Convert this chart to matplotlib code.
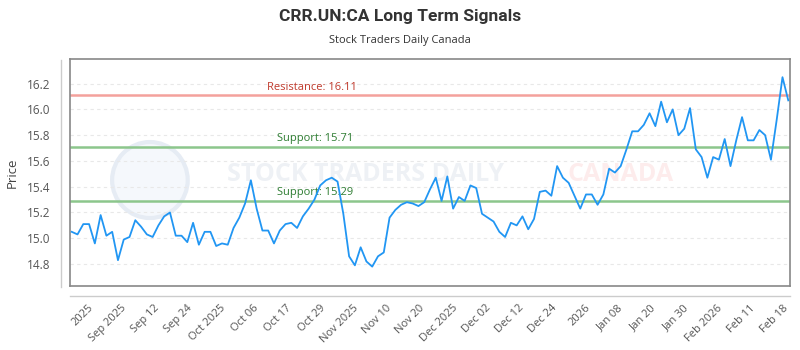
import numpy as np
import matplotlib
matplotlib.use("Agg")
import matplotlib.pyplot as plt
from matplotlib.lines import Line2D
from matplotlib.patches import Ellipse

plt.rcParams['font.family'] = ['Open Sans', 'DejaVu Sans']

title = 'CRR.UN:CA Long Term Signals'
subtitle = 'Stock Traders Daily Canada'

prices = [15.05, 15.03, 15.11, 15.11, 14.96, 15.18, 15.02, 15.05, 14.83, 14.99,
          15.01, 15.14, 15.09, 15.03, 15.01, 15.10, 15.17, 15.20, 15.02, 15.02,
          14.97, 15.12, 14.95, 15.05, 15.05, 14.94, 14.96, 14.95, 15.08, 15.16,
          15.27, 15.45, 15.23, 15.06, 15.06, 14.96, 15.06, 15.11, 15.12, 15.08,
          15.17, 15.23, 15.30, 15.41, 15.45, 15.47, 15.44, 15.19, 14.86, 14.79,
          14.93, 14.82, 14.78, 14.86, 14.89, 15.16, 15.22, 15.26, 15.28, 15.27,
          15.25, 15.28, 15.38, 15.47, 15.29, 15.48, 15.23, 15.32, 15.29, 15.41,
          15.39, 15.19, 15.16, 15.13, 15.05, 15.01, 15.12, 15.10, 15.17, 15.07,
          15.15, 15.36, 15.37, 15.33, 15.56, 15.47, 15.43, 15.33, 15.23, 15.34,
          15.34, 15.26, 15.34, 15.54, 15.51, 15.56, 15.69, 15.83, 15.83, 15.88,
          15.97, 15.87, 16.06, 15.90, 16.00, 15.80, 15.85, 16.01, 15.69, 15.63,
          15.47, 15.63, 15.61, 15.77, 15.56, 15.76, 15.94, 15.76, 15.76, 15.84,
          15.80, 15.61, 15.92, 16.25, 16.07]

tick_labels = ['2025', 'Sep 2025', 'Sep 12', 'Sep 24', 'Oct 2025', 'Oct 06',
               'Oct 17', 'Oct 29', 'Nov 2025', 'Nov 10', 'Nov 20', 'Dec 2025',
               'Dec 02', 'Dec 12', 'Dec 24', '2026', 'Jan 08', 'Jan 20',
               'Jan 30', 'Feb 2026', 'Feb 11', 'Feb 18']

resistance = 16.11
supports = [15.71, 15.29]

fig = plt.figure(figsize=(8, 3.5), dpi=100)
ax = fig.add_axes([0.0875, 0.183, 0.9, 0.648])

x = np.arange(len(prices))
ax.set_xlim(-0.3, len(prices) - 1 + 0.3)
ax.set_ylim(14.63, 16.39)

# grid
ax.set_yticks([14.8, 15.0, 15.2, 15.4, 15.6, 15.8, 16.0, 16.2])
ax.yaxis.grid(True, color='#e8e8e8', linestyle=(0, (3, 3)), linewidth=0.8)
ax.set_axisbelow(True)

# watermark (faint)
ax.add_patch(Ellipse((0.111, 0.467), 0.105, 0.335, transform=ax.transAxes,
                     facecolor='#f5f8fc', edgecolor='#e6ecf4', linewidth=3, zorder=0.5))
ax.text(0.41, 0.49, 'STOCK TRADERS DAILY', transform=ax.transAxes, ha='center',
        va='center', fontsize=18, color='#eef1f5', fontweight='bold', zorder=0.5)
ax.text(0.765, 0.49, 'CANADA', transform=ax.transAxes, ha='center',
        va='center', fontsize=18, color='#fdecec', fontweight='bold', zorder=0.5)

# signal lines
ax.axhline(resistance, color='#f4a19c', linewidth=1.8, zorder=2)
for s in supports:
    ax.axhline(s, color='#8cc68c', linewidth=1.8, zorder=2)

ax.text(0.336, resistance + 0.02, 'Resistance: %.2f' % resistance, transform=ax.get_yaxis_transform(),
        ha='center', va='bottom', fontsize=8, color='#c0392b')
for s in supports:
    ax.text(0.34, s + 0.02, 'Support: %.2f' % s, transform=ax.get_yaxis_transform(),
            ha='center', va='bottom', fontsize=8, color='#2e7d32')

ax.plot(x, prices, color='#2196f3', linewidth=1.3, zorder=3)

# x ticks
ticks = np.linspace(2.8, 123.1, len(tick_labels))
ax.set_xticks(ticks)
ax.set_xticklabels(tick_labels, rotation=45, ha='right', rotation_mode='anchor')
ax.tick_params(axis='x', length=0, pad=12, labelsize=8, labelcolor='#555555')
ax.tick_params(axis='y', length=0, pad=14, labelsize=8.5, labelcolor='#555555')
ax.set_ylabel('Price', fontsize=9.5, color='#444444', labelpad=6)

for sp in ax.spines.values():
    sp.set_color('#888888')
    sp.set_linewidth(1.2)

# detached axis lines
fig.add_artist(Line2D([61 / 800, 61 / 800], [1 - 60 / 350, 1 - 287 / 350], color='#cccccc', linewidth=1))
fig.add_artist(Line2D([70 / 800, 790 / 800], [1 - 296 / 350, 1 - 296 / 350], color='#cccccc', linewidth=1))

fig.text(0.5, 1 - 16 / 350, title, ha='center', va='center', fontsize=12.5,
         fontweight='bold', color='#333333', family=['Roboto', 'DejaVu Sans'])
fig.text(0.5, 1 - 40 / 350, subtitle, ha='center', va='center', fontsize=8, color='#333333')

fig.savefig('out.png', dpi=100)
